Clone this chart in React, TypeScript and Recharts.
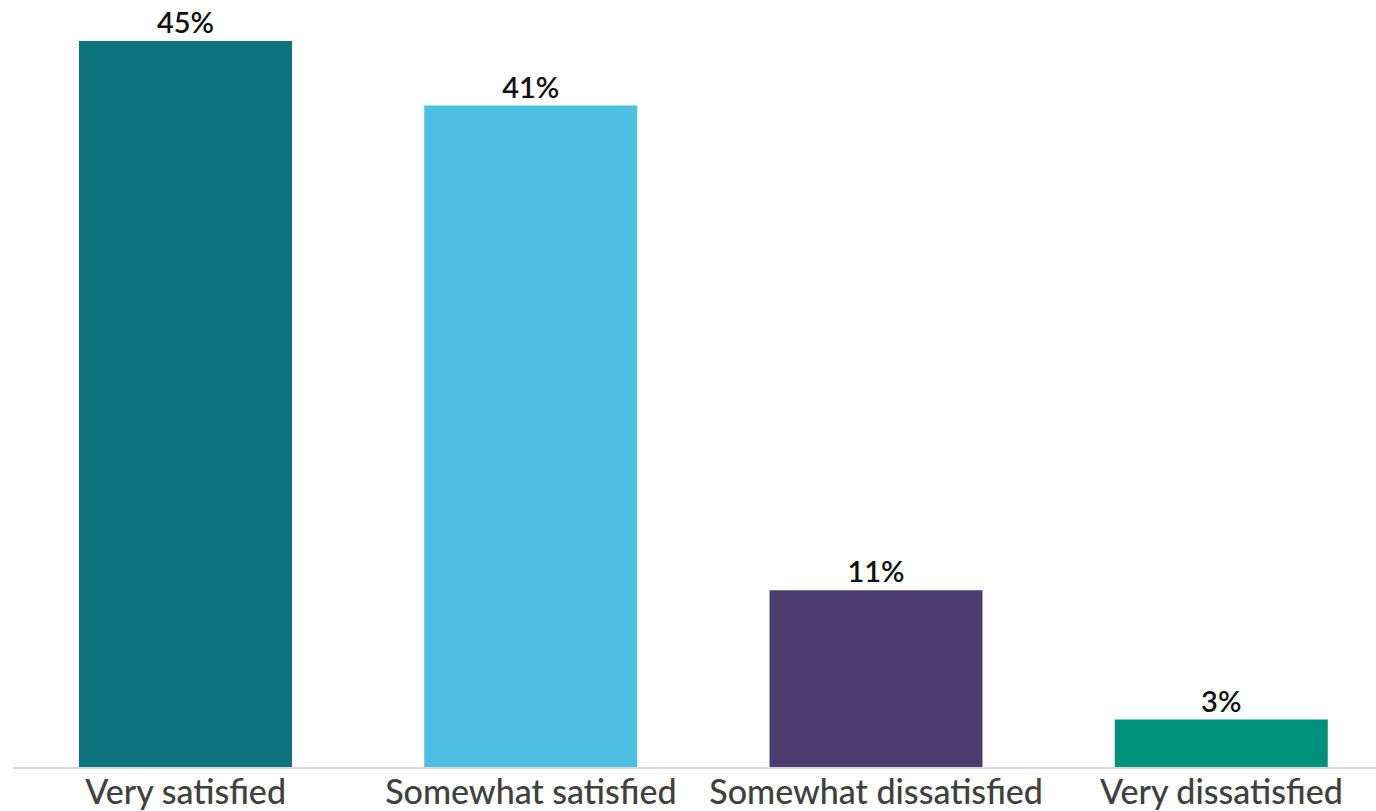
import React from 'react';
import { BarChart, Bar, XAxis, YAxis, Cell, LabelList } from 'recharts';

const categories = ['Very satisfied', 'Somewhat satisfied', 'Somewhat dissatisfied', 'Very dissatisfied'];
const shares = [45, 41, 11, 3];
const barColors = ['#0d737c', '#4dc0e1', '#4b3e6f', '#00917c'];

const data = categories.map((name, i) => ({ name, value: shares[i] }));

export default function App() {
  return (
    <div style={{ position: 'absolute', left: 0, top: 0, width: 1376, height: 811, overflow: 'hidden', background: '#fff' }}>
      <BarChart
        width={1400}
        height={811}
        data={data}
        margin={{ top: 41, right: 6, bottom: 0, left: 13 }}
        barSize={213}
      >
        <YAxis hide domain={[0, 45]} />
        <XAxis
          dataKey="name"
          height={43}
          tickLine={false}
          axisLine={{ stroke: '#d9d9d9', strokeWidth: 2 }}
          interval={0}
          tick={{ fill: '#404040', fontSize: 34, fontFamily: 'Lato', fontWeight: 500 }}
          tickMargin={6}
        />
        <Bar dataKey="value" isAnimationActive={false}>
          {data.map((d, i) => (
            <Cell key={d.name} fill={barColors[i]} />
          ))}
          <LabelList
            dataKey="value"
            position="top"
            offset={8}
            formatter={(v: number) => `${v}%`}
            style={{ fill: '#111', fontSize: 29, fontFamily: 'Lato', fontWeight: 600 }}
          />
        </Bar>
      </BarChart>
    </div>
  );
}
